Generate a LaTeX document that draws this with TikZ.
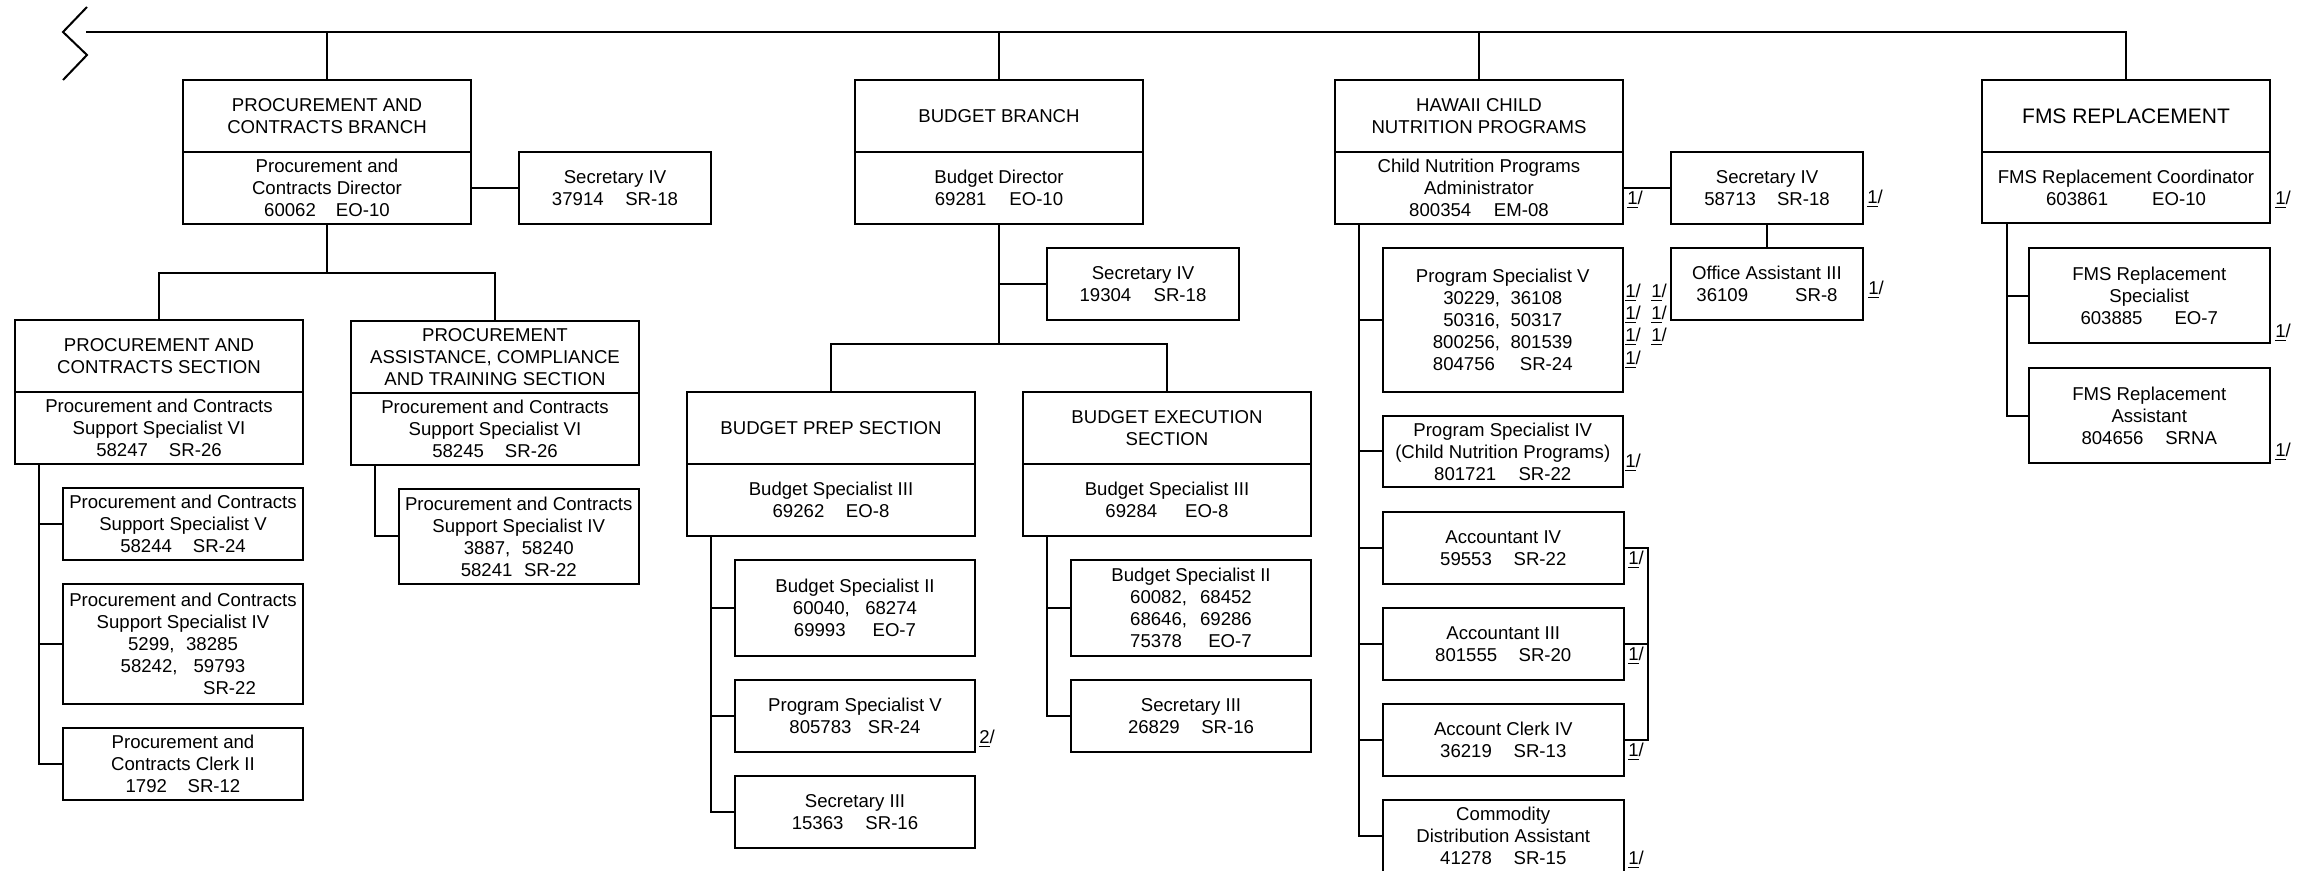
\documentclass[tikz,border=0pt]{standalone}
\usepackage{fontspec}
\setmainfont{Liberation Sans}
\newcommand\fs{\fontsize{9.3}{11}\selectfont}
\newcommand\fsb{\fontsize{10.5}{12.5}\selectfont}
\newcommand\gp[1]{\hspace{#1em}}
\newcommand\bx[7][]{%
  \pgfmathsetmacro\bxw{(#5-#3)*0.5}%
  \pgfmathsetmacro\bxh{(#6-#4)*0.5}%
  \node[box,#1,minimum width=\bxw pt,minimum height=\bxh pt] (#2) at ({(#3+#5)/2},{(#4+#6)/2}) {#7};}
\newcommand\fnl[4]{\node[fnote] (#1) at (#2,#3) {\underline{#4}/};}
\tikzset{
  box/.style={draw,line width=1pt,inner sep=1pt,align=center,font=\fs},
  fnote/.style={inner sep=0pt,font=\fs},
  conn/.style={line width=1pt},
  bracket/.style={line width=0.65pt}
}
\begin{document}
\begin{tikzpicture}[x=0.5pt,y=-0.5pt]
\fill[white] (0,0) rectangle (2309,871);
\useasboundingbox (0,0) rectangle (2309,871);
\begin{scope}
\clip (0,0) rectangle (2309,871);
% zigzag break mark
\draw[conn] (87,7) -- (63,32) -- (87,55) -- (63,80);
\coordinate (zz) at (86,32);

% ---------------- Procurement and Contracts Branch
\bx{pch}{183}{80}{471}{152}{PROCUREMENT AND\\CONTRACTS BRANCH}
\bx{pcd}{183}{152}{471}{224}{Procurement and\\Contracts Director\\60062\gp{1.08}EO-10}
\bx{pcsec}{519}{152}{711}{224}{Secretary IV\\37914\gp{1.16}SR-18}
\bx{pcsh}{15}{320}{303}{392}{PROCUREMENT AND\\CONTRACTS SECTION}
\bx{pcsb}{15}{392}{303}{464}{Procurement and Contracts\\Support Specialist VI\\58247\gp{1.13}SR-26}
\bx{pach}{351}{321}{639}{393}{PROCUREMENT\\ASSISTANCE, COMPLIANCE\\AND TRAINING SECTION}
\bx{pacb}{351}{393}{639}{465}{Procurement and Contracts\\Support Specialist VI\\58245\gp{1.13}SR-26}
\bx{pc5}{63}{488}{303}{560}{Procurement and Contracts\\Support Specialist V\\58244\gp{1.13}SR-24}
\bx{pc4}{63}{584}{303}{704}{Procurement and Contracts\\Support Specialist IV\\5299,\gp{0.62}38285\\58242,\gp{0.86}59793\\\hspace*{5em}SR-22}
\bx{pcclk}{63}{728}{303}{800}{Procurement and\\Contracts Clerk II\\1792\gp{1.11}SR-12}
\bx{pac4}{398.5}{489}{639}{584}{Procurement and Contracts\\Support Specialist IV\\3887,\gp{0.62}58240\\58241\gp{0.62}SR-22}

% ---------------- Budget Branch
\bx{bbh}{855}{80}{1143}{152}{BUDGET BRANCH}
\bx{bbd}{855}{152}{1143}{224}{Budget Director\\69281\gp{1.23}EO-10}
\bx{bsec}{1047}{248}{1239}{320}{Secretary IV\\19304\gp{1.2}SR-18}
\bx{bph}{687}{392}{975}{464}{BUDGET PREP SECTION}
\bx{bpb}{687}{464}{975}{536}{Budget Specialist III\\69262\gp{1.16}EO-8}
\bx{beh}{1023}{392}{1311}{464}{BUDGET EXECUTION\\SECTION}
\bx{beb}{1023}{464}{1311}{536}{Budget Specialist III\\69284\gp{1.5}EO-8}
\bx{bp2}{735}{560}{975}{656}{Budget Specialist II\\60040,\gp{0.83}68274\\69993\gp{1.45}EO-7}
\bx{bp5}{735}{680}{975}{752}{Program Specialist V\\805783\gp{0.88}SR-24}
\bx{bp3}{735}{776}{975}{848}{Secretary III\\15363\gp{1.18}SR-16}
\bx{be2}{1071}{560}{1311}{656}{Budget Specialist II\\60082,\gp{0.7}68452\\68646,\gp{0.7}69286\\75378\gp{1.42}EO-7}
\bx{be3}{1071}{680}{1311}{752}{Secretary III\\26829\gp{1.16}SR-16}
\fnl{fn2}{987}{739}{2}

% ---------------- Hawaii Child Nutrition Programs
\bx{hh}{1335}{80}{1623}{152}{HAWAII CHILD\\NUTRITION PROGRAMS}
\bx{hd}{1335}{152}{1623}{224}{Child Nutrition Programs\\Administrator\\800354\gp{1.22}EM-08}
\bx{hsec}{1671}{152}{1863}{224}{Secretary IV\\58713\gp{1.13}SR-18}
\bx{hoa}{1671}{248}{1863}{320}{Office Assistant III\\36109\gp{2.53}SR-8}
\bx{hp5}{1382.5}{248}{1623}{392}{Program Specialist V\\30229,\gp{0.56}36108\\50316,\gp{0.56}50317\\800256,\gp{0.56}801539\\804756\gp{1.34}SR-24}
\bx{hp4}{1382.5}{416}{1623}{487}{Program Specialist IV\\(Child Nutrition Programs)\\801721\gp{1.2}SR-22}
\bx{ha4}{1383}{512}{1623.5}{584}{Accountant IV\\59553\gp{1.17}SR-22}
\bx{ha3}{1383}{608}{1623.5}{680}{Accountant III\\801555\gp{1.15}SR-20}
\bx{hac}{1383}{704}{1623.5}{776}{Account Clerk IV\\36219\gp{1.17}SR-13}
\bx{hcd}{1383}{800}{1623.5}{871.5}{Commodity\\Distribution Assistant\\41278\gp{1.17}SR-15}
\fnl{fh1}{1635}{200}{1}
\fnl{fh2}{1875}{199}{1}
\fnl{fh3}{1876}{290}{1}
\fnl{fp1}{1633}{293}{1}
\fnl{fp2}{1633}{315}{1}
\fnl{fp3}{1633}{337}{1}
\fnl{fp4}{1633}{360}{1}
\fnl{fq1}{1659}{293}{1}
\fnl{fq2}{1659}{315}{1}
\fnl{fq3}{1659}{337}{1}
\fnl{fp5}{1633}{463}{1}
\fnl{fa4}{1636}{560}{1}
\fnl{fa3}{1636}{656}{1}
\fnl{fac}{1636}{752}{1}
\fnl{fcd}{1636}{860}{1}

% ---------------- FMS Replacement
\bx[font=\fsb]{fh}{1982}{80}{2270}{152}{FMS REPLACEMENT}
\bx{fd}{1982}{152}{2270}{223.5}{FMS Replacement Coordinator\\603861\gp{2.37}EO-10}
\bx{fs}{2028.5}{248.5}{2270}{343.5}{FMS Replacement\\Specialist\\603885\gp{1.72}EO-7}
\bx{fa}{2028.5}{368.5}{2270}{463.5}{FMS Replacement\\Assistant\\804656\gp{1.17}SRNA}
\fnl{ff1}{2283}{200}{1}
\fnl{ff2}{2283}{333}{1}
\fnl{ff3}{2283}{452}{1}

% ---------------- connectors
\draw[conn] (zz) -| (fh.north);
\draw[conn] (pch.north) -- (pch.north |- zz);
\draw[conn] (bbh.north) -- (bbh.north |- zz);
\draw[conn] (hh.north) -- (hh.north |- zz);

\draw[conn] (pcd.east) -- (pcsec.west);
\coordinate (pcj) at (327,273);
\draw[conn] (pcd.south) -- (pcj);
\draw[conn] (pcsh.north) |- (pcj) -| (pach.north);
\coordinate (pcsp) at (39,464);
\draw[conn] (pcsp) |- (pc5.west);
\draw[conn] (pcsp) |- (pc4.west);
\draw[conn] (pcsp) |- (pcclk.west);
\coordinate (pacsp) at (375,465);
\draw[conn] (pacsp) |- (pac4.west);

\coordinate (bj) at (999,344);
\draw[conn] (bbd.south) -- (bj);
\draw[conn] (bsec.west) -- (bsec.west -| bbd.south);
\draw[conn] (bph.north) |- (bj) -| (beh.north);
\coordinate (bpsp) at (711,536);
\draw[conn] (bpsp) |- (bp2.west);
\draw[conn] (bpsp) |- (bp5.west);
\draw[conn] (bpsp) |- (bp3.west);
\coordinate (besp) at (1047,536);
\draw[conn] (besp) |- (be2.west);
\draw[conn] (besp) |- (be3.west);

\draw[conn] (hd.east) -- (hsec.west);
\draw[conn] (hsec.south) -- (hoa.north);
\coordinate (hsp) at (1359,224);
\draw[conn] (hsp) |- (hp5.west);
\draw[conn] (hsp) |- (hp4.west);
\draw[conn] (hsp) |- (ha4.west);
\draw[conn] (hsp) |- (ha3.west);
\draw[conn] (hsp) |- (hac.west);
\draw[conn] (hsp) |- (hcd.west);
\coordinate (hbr) at (1648,548);
\draw[bracket] (ha4.east) -- (hbr) |- (hac.east);
\draw[bracket] (ha3.east) -- (ha3.east -| hbr);

\coordinate (fsp) at (2007,223.5);
\draw[conn] (fsp) |- (fs.west);
\draw[conn] (fsp) |- (fa.west);
\end{scope}
\end{tikzpicture}
\end{document}
